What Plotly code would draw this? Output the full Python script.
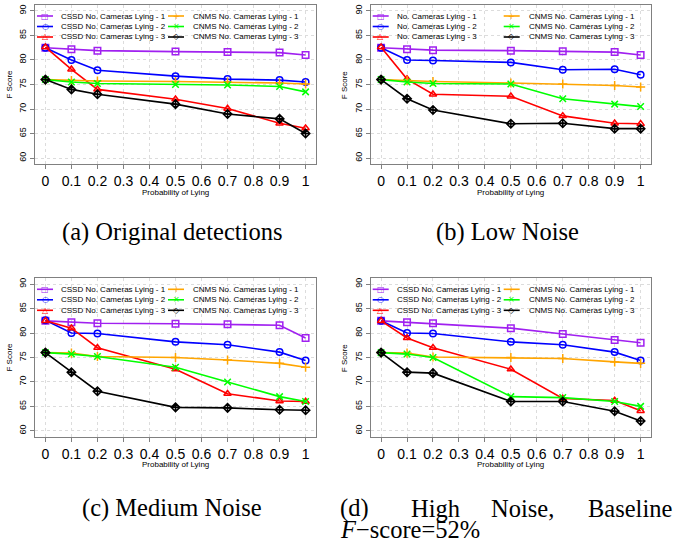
import plotly.graph_objects as go

# ---------------- data ----------------
prob_lying = [0, 0.1, 0.2, 0.5, 0.7, 0.9, 1]
x_tick_vals = [0, 0.1, 0.2, 0.3, 0.4, 0.5, 0.6, 0.7, 0.8, 0.9, 1]
x_tick_text = ["0", "0.1", "0.2", "0.3", "0.4", "0.5", "0.6", "0.7", "0.8", "0.9", "1"]
y_tick_vals = [60, 65, 70, 75, 80, 85, 90]

# (a) Original detections
a_cssd1 = [82.5, 82.2, 81.9, 81.7, 81.6, 81.5, 81.0]
a_cssd2 = [82.5, 80.0, 77.9, 76.7, 76.1, 75.9, 75.5]
a_cssd3 = [82.6, 78.1, 74.0, 72.0, 70.1, 67.1, 66.1]
a_cnms1 = [76.0, 75.8, 75.7, 75.6, 75.5, 75.3, 75.1]
a_cnms2 = [76.0, 75.5, 75.2, 75.0, 74.9, 74.6, 73.5]
a_cnms3 = [76.0, 74.0, 73.0, 71.0, 69.0, 68.0, 65.0]

# (b) Low Noise
b_cssd1 = [82.5, 82.2, 82.0, 81.9, 81.8, 81.6, 81.0]
b_cssd2 = [82.5, 80.0, 79.9, 79.5, 78.0, 78.1, 77.0]
b_cssd3 = [82.6, 76.1, 73.0, 72.6, 68.6, 67.1, 67.0]
b_cnms1 = [76.0, 75.8, 75.6, 75.3, 75.1, 74.8, 74.5]
b_cnms2 = [76.0, 75.5, 75.2, 75.1, 72.1, 71.0, 70.5]
b_cnms3 = [76.0, 72.1, 69.8, 67.0, 67.1, 66.0, 66.0]

# (c) Medium Noise
c_cssd1 = [82.5, 82.2, 82.0, 81.9, 81.8, 81.6, 79.0]
c_cssd2 = [82.6, 80.0, 79.9, 78.2, 77.6, 76.1, 74.4]
c_cssd3 = [82.5, 81.0, 77.0, 72.6, 67.6, 66.1, 66.0]
c_cnms1 = [76.0, 75.9, 75.2, 75.0, 74.5, 73.8, 73.0]
c_cnms2 = [76.0, 75.7, 75.2, 73.0, 70.0, 67.0, 66.0]
c_cnms3 = [76.0, 72.0, 68.1, 64.8, 64.7, 64.3, 64.2]

# (d) High Noise
d_cssd1 = [82.5, 82.2, 82.0, 81.0, 79.8, 78.6, 78.0]
d_cssd2 = [82.5, 80.0, 79.9, 78.2, 77.6, 76.1, 74.4]
d_cssd3 = [82.5, 79.0, 77.0, 72.6, 66.6, 66.2, 64.1]
d_cnms1 = [76.0, 75.9, 75.1, 75.0, 74.8, 74.1, 73.8]
d_cnms2 = [76.0, 75.7, 75.0, 67.0, 66.8, 66.0, 65.0]
d_cnms3 = [76.0, 72.0, 71.8, 66.0, 66.0, 64.0, 62.0]

cssd_names = ["CSSD No. Cameras Lying - 1", "CSSD No. Cameras Lying - 2", "CSSD No. Cameras Lying - 3"]
cssd_names_b = ["No. Cameras Lying - 1", "No. Cameras Lying - 2", "No. Cameras Lying - 3"]
cnms_names = ["CNMS No. Cameras Lying - 1", "CNMS No. Cameras Lying - 2", "CNMS No. Cameras Lying - 3"]

captions = ["(a) Original detections", "(b) Low Noise", "(c) Medium Noise"]

# ---------------- styles ----------------
W, H = 676, 542
colors = ["#A020F0", "#0000FF", "#FF0000", "#FFA500", "#00FF00", "#000000"]
symbols = ["square-open", "circle-open", "triangle-up-open",
           "cross-thin-open", "x-thin-open", "diamond-cross-open"]
glyphs = ["\u25A1", "\u25CB", "\u25B3", "+", "\u00D7", "\u25C7"]

# panel boxes in pixels: (left, right, top, bottom)
panels = [
    (35.0, 316.0, 5.0, 164.0),
    (370.7, 651.0, 5.0, 164.0),
    (35.0, 316.0, 278.3, 436.7),
    (370.7, 651.0, 278.3, 436.7),
]

def px(xpix):
    return xpix / W

def py(ypix):
    return 1 - ypix / H

panel_series = [
    [a_cssd1, a_cssd2, a_cssd3, a_cnms1, a_cnms2, a_cnms3],
    [b_cssd1, b_cssd2, b_cssd3, b_cnms1, b_cnms2, b_cnms3],
    [c_cssd1, c_cssd2, c_cssd3, c_cnms1, c_cnms2, c_cnms3],
    [d_cssd1, d_cssd2, d_cssd3, d_cnms1, d_cnms2, d_cnms3],
]
panel_names = [
    cssd_names + cnms_names,
    cssd_names_b + cnms_names,
    cssd_names + cnms_names,
    cssd_names + cnms_names,
]

fig = go.Figure()
annotations = []
shapes = []

sans = "Liberation Sans, Arial, sans-serif"
serif = "Liberation Serif, Times New Roman, serif"
cap_size = 24.5

for i, (series, names) in enumerate(zip(panel_series, panel_names)):
    k = i + 1
    xa = "x" if k == 1 else f"x{k}"
    ya = "y" if k == 1 else f"y{k}"
    for j, (vals, name) in enumerate(zip(series, names)):
        fig.add_trace(go.Scatter(
            x=prob_lying, y=vals, name=name, mode="lines+markers",
            xaxis=xa, yaxis=ya, showlegend=False,
            line=dict(color=colors[j], width=1.6),
            marker=dict(symbol=symbols[j], size=6.5, color=colors[j],
                        line=dict(color=colors[j], width=1.5)),
        ))
    L, R, T, B = panels[i]
    axis_common = dict(showline=True, mirror=True, linecolor="#808080", linewidth=1,
                       showgrid=True, gridcolor="#dcdcdc", griddash="dot", gridwidth=1,
                       zeroline=False, ticks="outside", ticklen=4, tickcolor="#808080")
    fig.update_layout(**{
        ("xaxis" if k == 1 else f"xaxis{k}"): dict(
            domain=[px(L), px(R)], anchor=ya, range=[-0.04, 1.04],
            tickmode="array", tickvals=x_tick_vals, ticktext=x_tick_text,
            tickfont=dict(family="Liberation Sans Narrow, " + sans, size=14, color="#000"),
            **axis_common),
        ("yaxis" if k == 1 else f"yaxis{k}"): dict(
            domain=[py(B), py(T)], anchor=xa, range=[58.8, 91.2],
            tickmode="array", tickvals=y_tick_vals, tickangle=-90,
            tickfont=dict(family=sans, size=9, color="#000"),
            **axis_common),
    })
    # axis titles
    cx = (L + R) / 2
    annotations.append(dict(text="Probability of Lying", x=px(cx), y=py(B + 28),
                            xref="paper", yref="paper", showarrow=False,
                            xanchor="center", yanchor="middle",
                            font=dict(family=sans, size=8, color="#000")))
    annotations.append(dict(text="F Score", x=px(L - 26), y=py((T + B) / 2),
                            xref="paper", yref="paper", showarrow=False, textangle=-90,
                            xanchor="center", yanchor="middle",
                            font=dict(family=sans, size=8, color="#000")))
    # legend (two columns, no frame)
    rows = [11, 21.5, 32]
    cols = [(2, 18, 24), (133, 149, 156)]
    for j, name in enumerate(names):
        c0, c1, tx = cols[j // 3]
        yy = T + rows[j % 3]
        shapes.append(dict(type="line", xref="paper", yref="paper",
                           x0=px(L + c0), x1=px(L + c1), y0=py(yy), y1=py(yy),
                           line=dict(color=colors[j], width=1.6)))
        annotations.append(dict(text=glyphs[j], x=px(L + (c0 + c1) / 2), y=py(yy),
                                xref="paper", yref="paper", showarrow=False,
                                xanchor="center", yanchor="middle",
                                font=dict(family="DejaVu Sans", size=8, color=colors[j])))
        annotations.append(dict(text=name, x=px(L + tx), y=py(yy),
                                xref="paper", yref="paper", showarrow=False,
                                xanchor="left", yanchor="middle",
                                font=dict(family=sans, size=8, color="#000")))

# captions
cap_pos = [(172, 232), (507, 232), (172, 508)]
for text, (cx, cy) in zip(captions, cap_pos):
    annotations.append(dict(text=text, x=px(cx), y=py(cy), xref="paper", yref="paper",
                            showarrow=False, xanchor="center", yanchor="middle",
                            font=dict(family=serif, size=cap_size, color="#000")))
# caption (d), justified line
d_words = [("(d)", 338, "left"), ("High", 409, "left"), ("Noise,", 489, "left"),
           ("Baseline", 674, "right")]
for word, xx, anc in d_words:
    annotations.append(dict(text=word, x=px(xx), y=py(508), xref="paper", yref="paper",
                            showarrow=False, xanchor=anc, yanchor="middle",
                            font=dict(family=serif, size=cap_size, color="#000")))
annotations.append(dict(text="<i>F</i>\u2212score=52%", x=px(338), y=py(529),
                        xref="paper", yref="paper", showarrow=False,
                        xanchor="left", yanchor="middle",
                        font=dict(family=serif, size=cap_size, color="#000")))

fig.update_layout(width=W, height=H, margin=dict(l=0, r=0, t=0, b=0),
                  paper_bgcolor="white", plot_bgcolor="white",
                  annotations=annotations, shapes=shapes, showlegend=False)

fig.write_html("out.html", config={"displayModeBar": False},
               post_script="document.body.style.margin='0px';document.body.style.padding='0px';")
